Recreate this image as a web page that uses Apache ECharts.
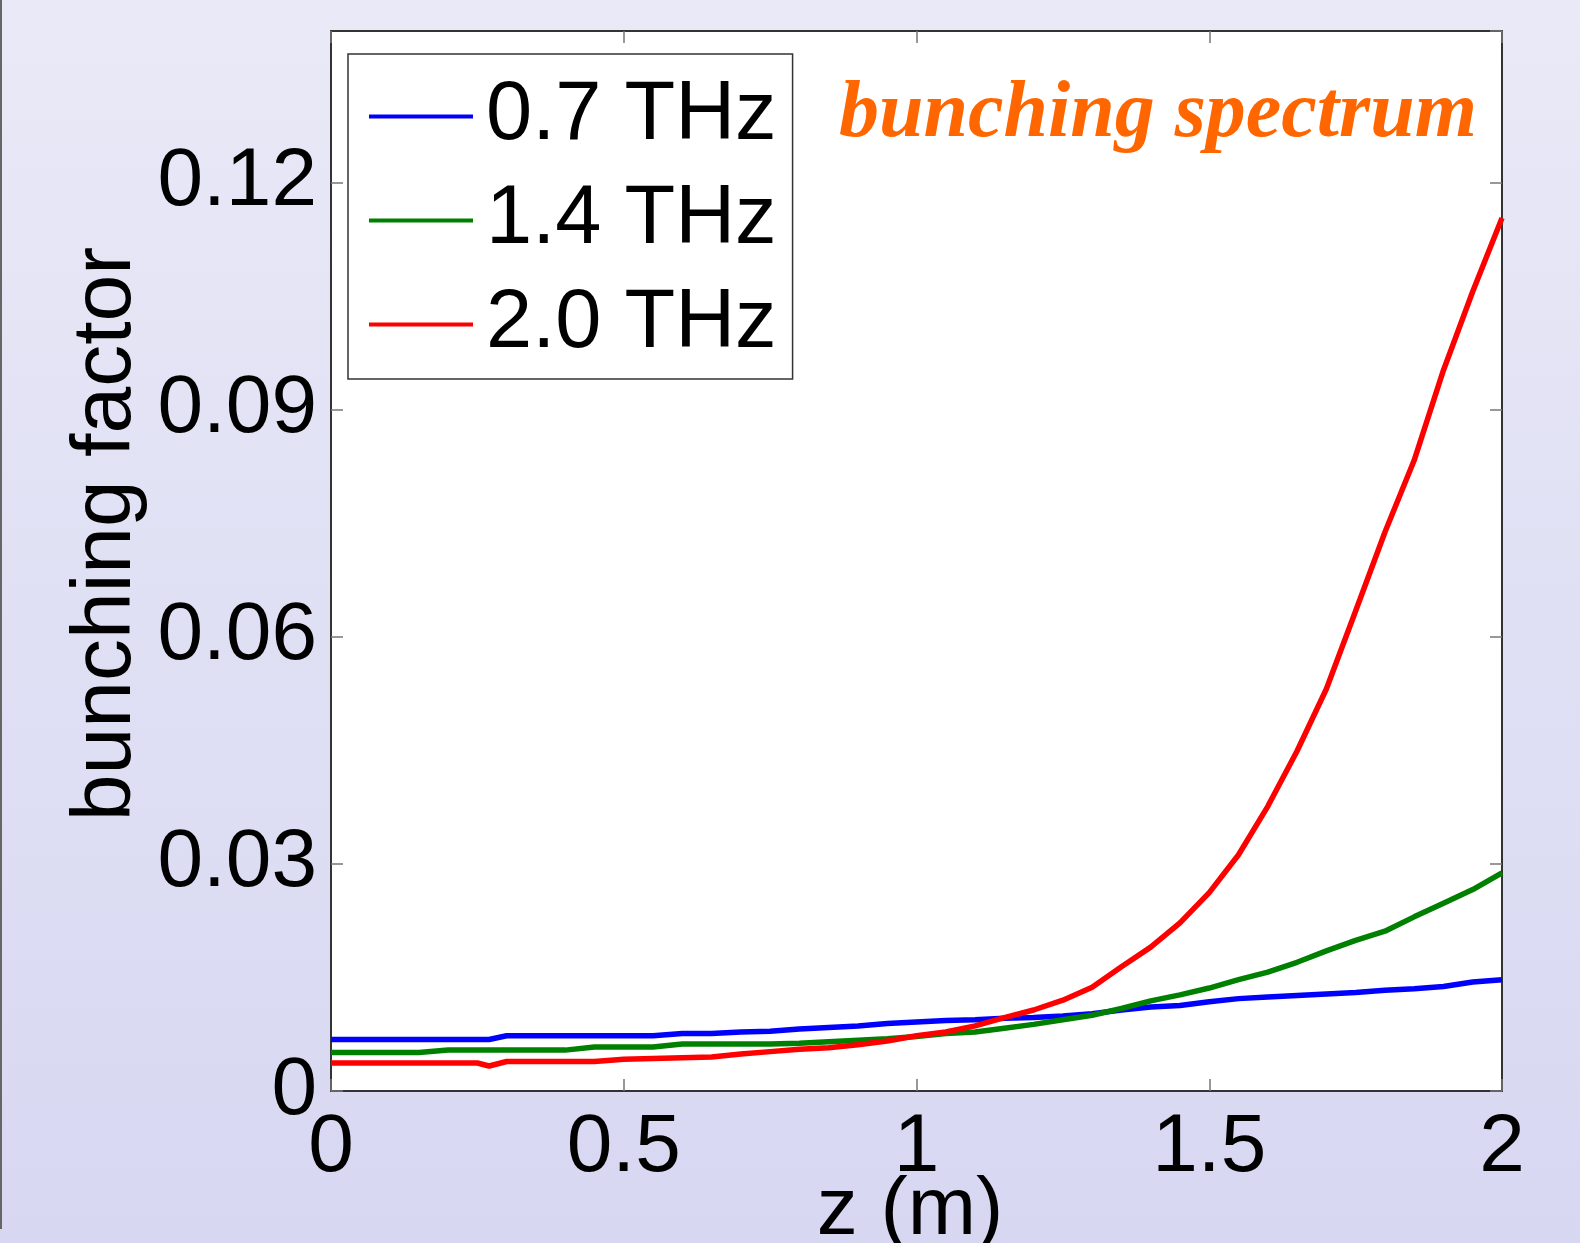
<!DOCTYPE html>
<html>
<head>
<meta charset="utf-8">
<title>bunching spectrum</title>
<script src="https://cdn.jsdelivr.net/npm/echarts@6.0.0/dist/echarts.min.js"></script>
<style>
  html, body { margin: 0; padding: 0; }
  #main { width: 1580px; height: 1243px; }
</style>
</head>
<body>
<div id="main"></div>
<script>
// z (m) sample positions
var zs = [0, 0.05, 0.1, 0.15, 0.2, 0.25, 0.27, 0.3, 0.35, 0.4, 0.45, 0.5, 0.55, 0.6, 0.65, 0.7, 0.75, 0.8, 0.85, 0.9, 0.95,
  1.0, 1.05, 1.1, 1.15, 1.2, 1.25, 1.3, 1.35, 1.4, 1.45, 1.5, 1.55, 1.6, 1.65, 1.7, 1.75, 1.8, 1.85, 1.9, 1.95, 2.0];

// bunching factor, 0.7 THz
var b07 = [0.0068, 0.0068, 0.0068, 0.0068, 0.0068, 0.0068, 0.0068, 0.0073, 0.0073, 0.0073, 0.0073, 0.0073, 0.0073, 0.0076,
  0.0076, 0.0078, 0.0079, 0.0082, 0.0084, 0.0086, 0.0089, 0.0091, 0.0093, 0.0094, 0.0096, 0.0097, 0.0099, 0.0102, 0.0107,
  0.0111, 0.0113, 0.0118, 0.0122, 0.0124, 0.0126, 0.0128, 0.0130, 0.0133, 0.0135, 0.0138, 0.0144, 0.0147];

// 1.4 THz
var b14 = [0.0051, 0.0051, 0.0051, 0.0051, 0.0054, 0.0054, 0.0054, 0.0054, 0.0054, 0.0054, 0.0058, 0.0058, 0.0058, 0.0062,
  0.0062, 0.0062, 0.0062, 0.0063, 0.0065, 0.0067, 0.0069, 0.0072, 0.0076, 0.0078, 0.0083, 0.0088, 0.0094, 0.0100, 0.0109,
  0.0119, 0.0127, 0.0136, 0.0147, 0.0157, 0.0170, 0.0185, 0.0199, 0.0211, 0.0230, 0.0248, 0.0266, 0.0288];

// 2.0 THz
var b20 = [0.0037, 0.0037, 0.0037, 0.0037, 0.0037, 0.0037, 0.0033, 0.0039, 0.0039, 0.0039, 0.0039, 0.0042, 0.0043, 0.0044,
  0.0045, 0.0049, 0.0052, 0.0055, 0.0057, 0.0061, 0.0066, 0.0073, 0.0078, 0.0086, 0.0097, 0.0107, 0.0120, 0.0137, 0.0164,
  0.0190, 0.0222, 0.0262, 0.0312, 0.0376, 0.0449, 0.0531, 0.0634, 0.0738, 0.0833, 0.0952, 0.1056, 0.1153];

var seriesNames = ['0.7 THz', '1.4 THz', '2.0 THz'];
var seriesColors = ['#0000ff', '#008000', '#ff0000'];
var xTicks = { min: 0, max: 2, interval: 0.5 };
var yTicks = { min: 0, max: 0.14, interval: 0.03 };

function pairs(vals) {
  return zs.map(function (z, i) { return [z, vals[i]]; });
}

var FONT = '"Liberation Sans", Arial, Helvetica, sans-serif';

function frameAxis(pos, ticks, showLabel) {
  var ax = {
    type: 'value',
    position: pos,
    min: ticks.min,
    max: ticks.max,
    interval: ticks.interval,
    axisLine: { show: true, onZero: false, lineStyle: { color: '#333', width: 2 } },
    axisTick: { show: true, inside: true, length: 12, lineStyle: { color: '#777', width: 1.5 } },
    splitLine: { show: false },
    axisLabel: { show: false }
  };
  if (showLabel) {
    ax.axisLabel = {
      show: true,
      color: '#000',
      fontSize: 82,
      fontFamily: FONT,
      showMaxLabel: pos === 'bottom',
      margin: pos === 'bottom' ? 16 : 14
    };
  }
  return ax;
}

var chart = echarts.init(document.getElementById('main'));

chart.setOption({
  animation: false,
  backgroundColor: new echarts.graphic.LinearGradient(0, 0, 0, 1, [
    { offset: 0, color: '#e9e9f7' },
    { offset: 1, color: '#d7d7f2' }
  ]),
  grid: {
    left: 331, top: 31, width: 1171, height: 1060,
    outerBoundsMode: 'none', containLabel: false,
    backgroundColor: '#fff', show: true, borderWidth: 0
  },
  xAxis: [frameAxis('bottom', xTicks, true), frameAxis('top', xTicks, false)],
  yAxis: [frameAxis('left', yTicks, true), frameAxis('right', yTicks, false)],
  legend: {
    orient: 'vertical',
    left: 348,
    top: 54,
    padding: [21, 16, 13, 21],
    icon: 'rect',
    itemWidth: 104,
    itemHeight: 4,
    itemGap: 21,
    backgroundColor: '#fff',
    borderColor: '#333',
    borderWidth: 1.5,
    borderRadius: 0,
    textStyle: { color: '#000', fontSize: 83, fontFamily: FONT, padding: [0, 0, 0, 8] },
    data: seriesNames
  },
  graphic: [
    { type: 'rect', left: 0, top: 0, shape: { width: 2, height: 1229 }, style: { fill: '#666' } },
    // axis titles
    {
      type: 'text', x: 107, y: 534, rotation: Math.PI / 2,
      style: { text: 'bunching factor', fill: '#000', font: '84px ' + FONT, align: 'center', verticalAlign: 'middle' }
    },
    {
      type: 'text', x: 910, y: 1211,
      style: { text: 'z (m)', fill: '#000', font: '82px ' + FONT, align: 'center', verticalAlign: 'middle' }
    },
    {
      type: 'text', x: 839, y: 115, z: 10,
      style: { text: 'bunching spectrum', fill: '#ff6600', font: 'italic bold 80px "Liberation Serif", "Times New Roman", serif', align: 'left', verticalAlign: 'middle' }
    }
  ],
  series: [b07, b14, b20].map(function (vals, i) {
    return {
      name: seriesNames[i],
      type: 'line',
      symbol: 'none',
      color: seriesColors[i],
      lineStyle: { width: 5.5, color: seriesColors[i] },
      data: pairs(vals)
    };
  })
});
</script>
</body>
</html>
